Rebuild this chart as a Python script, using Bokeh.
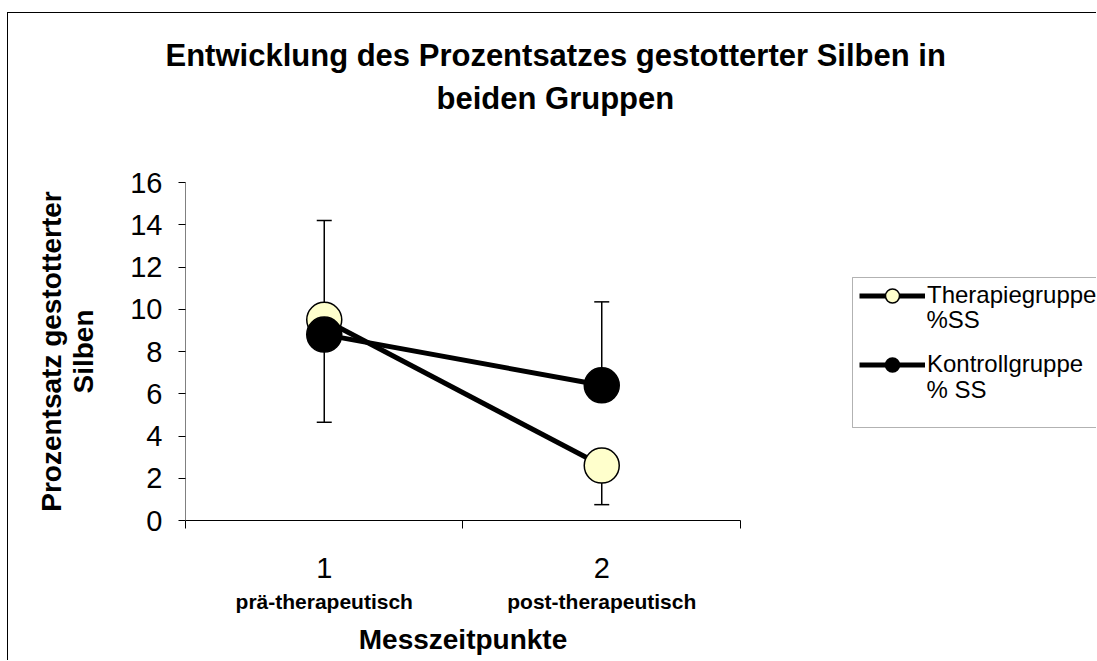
from bokeh.plotting import figure
from bokeh.models import (Range1d, FixedTicker, Whisker, ColumnDataSource, Label,
                          BoxAnnotation, Legend, LegendItem, TeeHead, LinearAxis, Title)
from bokeh.embed import file_html
from bokeh.resources import INLINE

# ---- data ----
x_pos = [1, 2]
x_tick_labels = ["1", "2"]
x_sub_labels = ["prä-therapeutisch", "post-therapeutisch"]
therapie = [9.5, 2.6]
kontroll = [8.8, 6.4]
therapie_err_minus = [4.85, 1.85]
kontroll_err_plus = [5.4, 3.95]
y_ticks = [0, 2, 4, 6, 8, 10, 12, 14, 16]
series_names = ["Therapiegruppe", "Kontrollgruppe"]
series_suffix = ["%SS", "% SS"]
title_lines = ["Entwicklung des Prozentsatzes gestotterter Silben in", "beiden Gruppen"]
x_title = "Messzeitpunkte"
y_title = "Prozentsatz gestotterter\nSilben"

FONT = "Liberation Sans"
X_MID = 1.5   # centre of the category axis (data units)
Y_MID = 8     # centre of the value axis (data units)

# The frame reaches the right edge of the canvas so that the legend is drawn
# inside it; the axes are limited to the data area by bounds.
p = figure(width=1089, height=648, output_backend="svg", toolbar_location=None,
           x_range=Range1d(0.5, 3.7865), y_range=Range1d(0, 19.03),
           min_border_left=177, min_border_right=0, min_border_top=105,
           min_border_bottom=141)
p.styles = {"margin-left": "7px", "margin-top": "12px",
            "border-left": "1px solid black", "border-top": "1px solid black"}
p.xgrid.visible = False
p.ygrid.visible = False
p.outline_line_color = None
p.background_fill_color = "white"
p.border_fill_color = "white"

# ---- title: two lines centred over the whole chart ----
p.title.text = title_lines[0]
p.title.align = "left"
p.title.offset = -20
p.title.standoff = 6
p.title.text_font = FONT
p.title.text_font_size = "31px"
p.title.text_font_style = "bold"
p.title.text_color = "black"
p.add_layout(Title(text=title_lines[1], align="left", offset=251, standoff=6,
                   text_font=FONT, text_font_size="31px", text_font_style="bold",
                   text_color="black"), "above")

# ---- y axis ----
ya = p.yaxis[0]
ya.bounds = (0, 16)
ya.ticker = FixedTicker(ticks=y_ticks)
ya.major_label_text_font = FONT
ya.major_label_text_font_size = "29px"
ya.major_label_text_color = "black"
ya.major_tick_out = 7
ya.major_tick_in = 0
ya.minor_tick_line_color = None
ya.axis_line_color = "#808080"
ya.major_tick_line_color = "black"
ya.major_label_standoff = 16

# y axis title, centred on the value range
yb = LinearAxis(ticker=FixedTicker(ticks=[Y_MID]), bounds=(0, 16),
                major_label_overrides={Y_MID: y_title},
                major_label_orientation="vertical",
                axis_line_color=None, major_tick_line_color=None,
                minor_tick_line_color=None, major_tick_out=0, major_tick_in=0,
                major_label_standoff=28, major_label_text_font=FONT,
                major_label_text_font_size="28px", major_label_text_font_style="bold",
                major_label_text_line_height=1.05, major_label_text_color="black")
p.add_layout(yb, "left")

# ---- x axis: tick marks at category boundaries ----
xa = p.xaxis[0]
xa.bounds = (0.5, 2.5)
xa.ticker = FixedTicker(ticks=[0.5, 1.5, 2.5])
xa.major_label_overrides = {0.5: "", 1.5: "", 2.5: ""}
xa.major_label_text_font_size = "0px"
xa.major_label_standoff = 0
xa.major_tick_out = 8
xa.major_tick_in = 0
xa.minor_tick_line_color = None
xa.axis_line_color = "black"
xa.major_tick_line_color = "black"

# category numbers
xb = LinearAxis(ticker=FixedTicker(ticks=x_pos), bounds=(0.5, 2.5),
                major_label_overrides=dict(zip(x_pos, x_tick_labels)),
                axis_line_color=None, major_tick_line_color=None,
                minor_tick_line_color=None, major_tick_out=0, major_tick_in=0,
                major_label_standoff=29, major_label_text_font=FONT,
                major_label_text_font_size="29px", major_label_text_color="black")
p.add_layout(xb, "below")

# category descriptions
xc = LinearAxis(ticker=FixedTicker(ticks=x_pos), bounds=(0.5, 2.5),
                major_label_overrides=dict(zip(x_pos, x_sub_labels)),
                axis_line_color=None, major_tick_line_color=None,
                minor_tick_line_color=None, major_tick_out=0, major_tick_in=0,
                major_label_standoff=9, major_label_text_font=FONT,
                major_label_text_font_size="21px", major_label_text_font_style="bold",
                major_label_text_color="black")
p.add_layout(xc, "below")

# x axis title, centred on the category range
xd = LinearAxis(ticker=FixedTicker(ticks=[X_MID]), bounds=(0.5, 2.5),
                major_label_overrides={X_MID: x_title},
                axis_line_color=None, major_tick_line_color=None,
                minor_tick_line_color=None, major_tick_out=0, major_tick_in=0,
                major_label_standoff=8, major_label_text_font=FONT,
                major_label_text_font_size="28px", major_label_text_font_style="bold",
                major_label_text_color="black")
p.add_layout(xd, "below")

src = ColumnDataSource(dict(
    x=x_pos, t=therapie, k=kontroll,
    t_lo=[v - e for v, e in zip(therapie, therapie_err_minus)],
    k_hi=[v + e for v, e in zip(kontroll, kontroll_err_plus)],
))

# error bars (behind markers)
p.add_layout(Whisker(source=src, base="x", lower="t_lo", upper="t",
                     line_color="black", line_width=1.5, upper_head=None,
                     lower_head=TeeHead(size=15, line_color="black", line_width=1.5)))
p.add_layout(Whisker(source=src, base="x", lower="k", upper="k_hi",
                     line_color="black", line_width=1.5, lower_head=None,
                     upper_head=TeeHead(size=15, line_color="black", line_width=1.5)))

t_line = p.line("x", "t", source=src, line_color="black", line_width=5)
t_pts = p.scatter("x", "t", source=src, size=35, fill_color="#FFFFCC",
                  line_color="black", line_width=1.5)
k_line = p.line("x", "k", source=src, line_color="black", line_width=5)
k_pts = p.scatter("x", "k", source=src, size=35, fill_color="black",
                  line_color="black", line_width=1.5)

# ---- legend ----
p.add_layout(BoxAnnotation(left=843, right=2000, top=263, bottom=413,
                           left_units="canvas", right_units="canvas",
                           top_units="canvas", bottom_units="canvas",
                           fill_color="white", fill_alpha=1, line_color="black",
                           line_width=1))

legend = Legend(items=[LegendItem(label=series_names[0], renderers=[t_line, t_pts]),
                       LegendItem(label=series_names[1], renderers=[k_line, k_pts])],
                location=(674, 138.5), glyph_width=66, glyph_height=35, spacing=34,
                padding=0, margin=0, label_standoff=2, border_line_color=None,
                background_fill_alpha=0, label_text_font=FONT,
                label_text_font_size="24px", label_text_color="black")
p.add_layout(legend)

for yv, suf in zip([305, 375], series_suffix):
    p.add_layout(Label(x=917, y=yv, x_units="canvas", y_units="canvas", text=suf,
                       text_align="left", text_baseline="middle",
                       text_font=FONT, text_font_size="24px", text_color="black"))

open("out.html", "w").write(file_html(p, INLINE))
